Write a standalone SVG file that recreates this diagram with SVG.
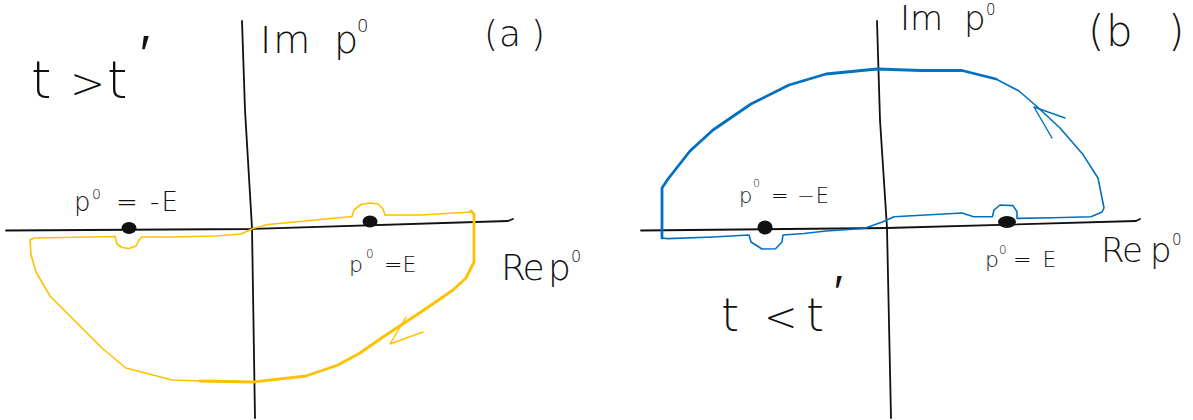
<svg xmlns="http://www.w3.org/2000/svg" width="1193" height="420" viewBox="0 0 1193 420">
<style>
.ax{stroke:#111;stroke-width:1.8;fill:none;stroke-linecap:round;stroke-linejoin:round}
.lbl{font-family:"DejaVu Sans","Liberation Sans",Arial,sans-serif;font-weight:200;fill:#111}
.yel{stroke:#FFC000;fill:none;stroke-linejoin:round;stroke-linecap:round}
.blu{stroke:#0070C0;fill:none;stroke-linejoin:round;stroke-linecap:round}
.dot{fill:#111}
</style>
<rect width="1193" height="420" fill="#fff"/>
<g id="panel-a">
  <g id="axes-a">
    <path class="ax" d="M6,230.5 L250,229 L508,221 L513,219"/>
    <path class="ax" d="M242,21 L245,110 L252,228 L255,418"/>
  </g>
  <g id="contour-a">
    <path class="yel" stroke-width="1.6" d="M200,381 L172,380 L126,368 L103,349 L77,323 L50,296 L36,272 L31,255 L30,240 L34,238 L115,236.5 L117,244 L122,247.5 L129,248.5 L136,246 L139,240 L142,237 L169,237 L215,236 L241,234 L253,228.5 L268,224.5 L326,219 L352,216.5 L354,210 L361,204.5 L370,203 L378,204 L383,209 L385,215 L421,215 L471,212"/>
    <path class="yel" stroke-width="2.8" d="M471,211 L474,214 L474,262 L466,278 L453,290 L421,312 L383,337 L360,353 L338,365 L306,376 L253,382 L200,381"/>
    <path class="yel" stroke-width="1.4" d="M406,317 L390,344 L423,332"/>
  </g>
  <g id="pole-minus-a">
    <ellipse class="dot" cx="129" cy="228" rx="7.5" ry="6"/>
    <text class="lbl" font-size="26" y="211"><tspan x="74">p</tspan><tspan x="92" y="199" font-size="14">0</tspan><tspan x="116" y="211" letter-spacing="2">= -E</tspan></text>
  </g>
  <g id="pole-plus-a">
    <ellipse class="dot" cx="370" cy="221.5" rx="7.5" ry="6"/>
    <text class="lbl" font-size="22" y="272"><tspan x="349">p</tspan><tspan x="366" y="258" font-size="12">0</tspan><tspan x="384" y="272">=E</tspan></text>
  </g>
  <g id="labels-a">
    <text class="lbl" font-size="52" y="98"><tspan x="31">t</tspan><tspan x="70" font-size="42">&gt;</tspan><tspan x="107">t</tspan><tspan x="140" y="72">′</tspan></text>
    <text class="lbl" font-size="38" y="53"><tspan x="260" letter-spacing="2">Im</tspan><tspan x="334">p</tspan><tspan x="357" y="32" font-size="18">0</tspan></text>
    <text class="lbl" font-size="36" y="46"><tspan x="484">(</tspan><tspan x="499">a</tspan><tspan x="531">)</tspan></text>
    <text class="lbl" font-size="36" y="280"><tspan x="501" letter-spacing="-2">Re</tspan><tspan x="548">p</tspan><tspan x="571" y="262" font-size="16">0</tspan></text>
  </g>
</g>
<g id="panel-b">
  <g id="axes-b">
    <path class="ax" d="M641,230.5 L887,228 L1136,221 L1140,219"/>
    <path class="ax" d="M877,21 L880,120 L887,228 L891,418"/>
  </g>
  <g id="contour-b">
    <path class="blu" stroke-width="2.8" d="M662,238 L662,188 L668,179 L690,151 L713,130 L751,104 L789,85 L826,74 L877,69 L921,70.5 L962,70.5 L996,79"/>
    <path class="blu" stroke-width="1.6" d="M996,79 L1019,91 L1038,107.5 L1060,128 L1083,154.6 L1098,178 L1104,208 L1102,212 L1091,216.7 L1053,217.7 L1017,218.4 L1017,211.7 L1013,205.6 L1000,205 L994,210 L992.5,216.7 L973.6,216.7 L962,213 L894,216.7 L883,221.8 L864,228.5 L826,231 L804,233.5 L783,235 L782,242 L775.5,248.7 L762,249 L751,242 L749,235 L713,237 L668,238.6 L662,238"/>
    <path class="blu" stroke-width="1.4" d="M1065,118 L1034,107 L1052,138"/>
  </g>
  <g id="pole-minus-b">
    <ellipse class="dot" cx="765" cy="227.5" rx="7.5" ry="7"/>
    <text class="lbl" font-size="21" y="203"><tspan x="739">p</tspan><tspan x="753" y="187" font-size="11">0</tspan><tspan x="771" y="203" letter-spacing="1">= −E</tspan></text>
  </g>
  <g id="pole-plus-b">
    <ellipse class="dot" cx="1007" cy="222" rx="9" ry="6"/>
    <text class="lbl" font-size="22" y="267"><tspan x="985">p</tspan><tspan x="999" y="254" font-size="12">0</tspan><tspan x="1013" y="267" letter-spacing="2">= E</tspan></text>
  </g>
  <g id="labels-b">
    <text class="lbl" font-size="34" y="30"><tspan x="900">Im</tspan><tspan x="964">p</tspan><tspan x="986" y="15" font-size="15">0</tspan></text>
    <text class="lbl" font-size="42" y="46"><tspan x="1088">(</tspan><tspan x="1106">b</tspan><tspan x="1168">)</tspan></text>
    <text class="lbl" font-size="34" y="262"><tspan x="1101" letter-spacing="-1">Re</tspan><tspan x="1150">p</tspan><tspan x="1172" y="245" font-size="15">0</tspan></text>
    <text class="lbl" font-size="46" y="331"><tspan x="721">t</tspan><tspan x="764" font-size="40">&lt;</tspan><tspan x="806">t</tspan><tspan x="834" y="308">′</tspan></text>
  </g>
</g>
</svg>
